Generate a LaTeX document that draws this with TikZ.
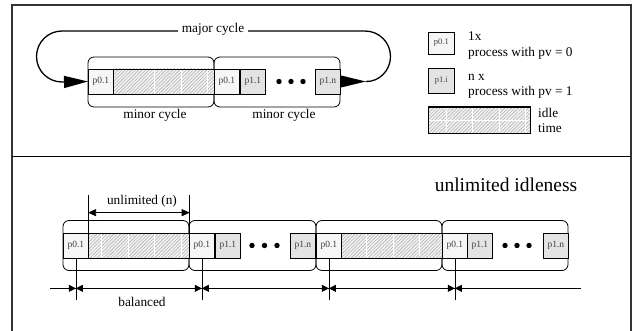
\documentclass[tikz,border=0pt]{standalone}
\usepackage{fontspec}
\setmainfont{Liberation Serif}
\usetikzlibrary{patterns.meta,calc,arrows.meta}
\begin{document}
\begin{tikzpicture}[x=1pt,y=-1pt,
  cell/.style={draw=black, line width=0.7pt, minimum height=25pt, inner sep=0pt,
    font=\fontsize{9.5}{10}\selectfont, text=black!75, anchor=west},
  pzero/.style={cell, fill=gray!7, minimum width=25pt},
  pone/.style={cell, fill=gray!22, minimum width=25pt},
  idlecell/.style={cell, minimum width=101pt,
    preaction={fill=gray!10},
    pattern={Lines[angle=45,distance=2.4pt,line width=0.45pt]}, pattern color=gray!70},
  cyclebox/.style={draw=black, line width=0.8pt, rounded corners=6pt,
    minimum width=126pt, minimum height=50pt, inner sep=0pt},
  lbl/.style={font=\fontsize{13.3}{14}\selectfont, inner sep=0pt},
  seam/.style={white, line width=0.6pt},
  dotmark/.style={circle, fill=black, inner sep=0pt, minimum size=5.4pt},
  frame/.style={draw=black!80, line width=1.2pt},
  dim/.style={line width=0.7pt},
  dimtip/.style={-{Triangle[length=7pt,width=7pt]}, line width=0.7pt}
]
\useasboundingbox (0,0) rectangle (639,331);
% frame
\draw[frame] (12,331) -- (12,5) -- (631,5) -- (631,331);
\draw[line width=1pt] (12,157) -- (631,157);

% ---------------- top part ----------------
\node[cyclebox] (tc1) at (151,82) {};
\node[cyclebox] (tc2) at (277,82) {};
\node[pzero] (t1a) at (88,81.5) {p0.1};
\node[idlecell] (t1h) at (113,81.5) {};
\foreach \x in {154.5,181,207.5} \draw[seam] (\x,70) -- (\x,93);
\node[pzero] (t2a) at (214,81.5) {p0.1};
\node[pone] (t2b) at (240,81.5) {p1.1};
\node[dotmark] at (279,81.5) {};
\node[dotmark] at (291,81.5) {};
\node[dotmark] at (303,81.5) {};
\node[pone] (t2n) at (315,81.5) {p1.n};
\node[lbl, anchor=base] at (155,119) {minor cycle};
\node[lbl, anchor=base] at (284,119) {minor cycle};

% major cycle loop
\fill ($(t2n.east)+(0.5,-6)$) -- ($(t2n.east)+(0.5,6)$) -- ($(t2n.east)+(25,0)$) -- cycle;
\coordinate (loopR) at ($(t2n.east)+(25,0)$);
\draw[line width=1.3pt, -{Triangle[length=24pt,width=12pt]}]
  (loopR) .. controls (379.1,82) and (390.5,70.6) .. (390.5,56.5)
  .. controls (390.5,42.4) and (379.1,31) .. (365,31)
  -- (62,31) .. controls (47.9,31) and (36.5,42.4) .. (36.5,56.5)
  .. controls (36.5,70.6) and (47.9,82) .. (62,82) -- (t1a.west);
\node[lbl, anchor=base, fill=white, inner xsep=4pt, inner ysep=2pt] at (213,33) {major cycle};

% legend
\node[cell, fill=gray!7, minimum width=26pt, minimum height=22pt, font=\fontsize{8.5}{9}\selectfont] (lg0) at (428,43) {p0.1};
\node[cell, fill=gray!22, minimum width=26pt, minimum height=25pt, font=\fontsize{8.5}{9}\selectfont] (lg1) at (428,80.5) {p1.i};
\node[cell, minimum width=102pt, minimum height=26pt, preaction={fill=gray!10},
  pattern={Lines[angle=45,distance=2.4pt,line width=0.45pt]}, pattern color=gray!70] (lgi) at (428,120) {};
\foreach \x in {446,472.5,499,525.5} \draw[seam] (\x,108) -- (\x,132);
\draw[seam] (429,120) -- (529,120);
\draw[line width=0.7pt] (lgi.north west) rectangle (lgi.south east);
\node[lbl, anchor=base west] at (468,41) {1x};
\node[lbl, anchor=base west] at (468,57) {process with pv = 0};
\node[lbl, anchor=base west] at (468,81) {n x};
\node[lbl, anchor=base west] at (468,96) {process with pv = 1};
\node[lbl, anchor=base west] at (538,118) {idle};
\node[lbl, anchor=base west] at (538,133) {time};

% ---------------- bottom part ----------------
\node[lbl, anchor=base, font=\fontsize{19.5}{20}\selectfont] at (506,191) {unlimited idleness};

\node[cyclebox] (bc1) at (126,245.5) {};
\node[cyclebox, minimum width=127pt] (bc2) at (252.5,245.5) {};
\node[cyclebox] (bc3) at (379,245.5) {};
\node[cyclebox] (bc4) at (505,245.5) {};

\node[pzero] (b1a) at (63,245.5) {p0.1};
\node[idlecell] (b1h) at (88,245.5) {};
\foreach \x in {101.5,128,154.5,181} \draw[seam] (\x,234) -- (\x,257);

\node[pzero] (b2a) at (189,245.5) {p0.1};
\node[pone] (b2b) at (215,245.5) {p1.1};
\node[dotmark] at (252,245.5) {};
\node[dotmark] at (264.5,245.5) {};
\node[dotmark] at (277,245.5) {};
\node[pone] (b2n) at (290,245.5) {p1.n};

\node[pzero] (b3a) at (316,245.5) {p0.1};
\node[idlecell] (b3h) at (341,245.5) {};
\foreach \x in {366.5,393,419.5} \draw[seam] (\x,234) -- (\x,257);

\node[pzero] (b4a) at (442,245.5) {p0.1};
\node[pone] (b4b) at (467,245.5) {p1.1};
\node[dotmark] at (505,245.5) {};
\node[dotmark] at (517,245.5) {};
\node[dotmark] at (529,245.5) {};
\node[pone] (b4n) at (543,245.5) {p1.n};

% unlimited (n) dimension
\coordinate (uL) at ($(b1h.north west)+(0,-38)$);
\coordinate (uR) at ($(b1h.north east)+(0,-38)$);
\draw[dim] (b1h.north west) -- (uL);
\draw[dim] (b1h.north east) -- (uR);
\draw[line width=0.7pt, {Triangle[length=8pt,width=7pt]}-{Triangle[length=8pt,width=7pt]}]
  ($(b1h.north west)+(0,-20)$) -- ($(b1h.north east)+(0,-20)$);
\node[lbl, anchor=base] at (142,204) {unlimited (n)};

% balanced dimension
\coordinate (bl) at (50,288);
\coordinate (br) at (581,288);
\draw[dim] (bl) -- (br);
\foreach \n in {b1a,b2a,b3a,b4a}{
  \draw[dim] (\n.south) -- ($(\n.south)+(0,42)$);
  \coordinate (t) at ($(\n.south)+(0,30)$);
  \draw[dimtip] ($(t)+(-10,0)$) -- (t);
  \draw[dimtip] ($(t)+(10,0)$) -- (t);
}
\node[lbl, anchor=base] at (142,306) {balanced};
\end{tikzpicture}
\end{document}
